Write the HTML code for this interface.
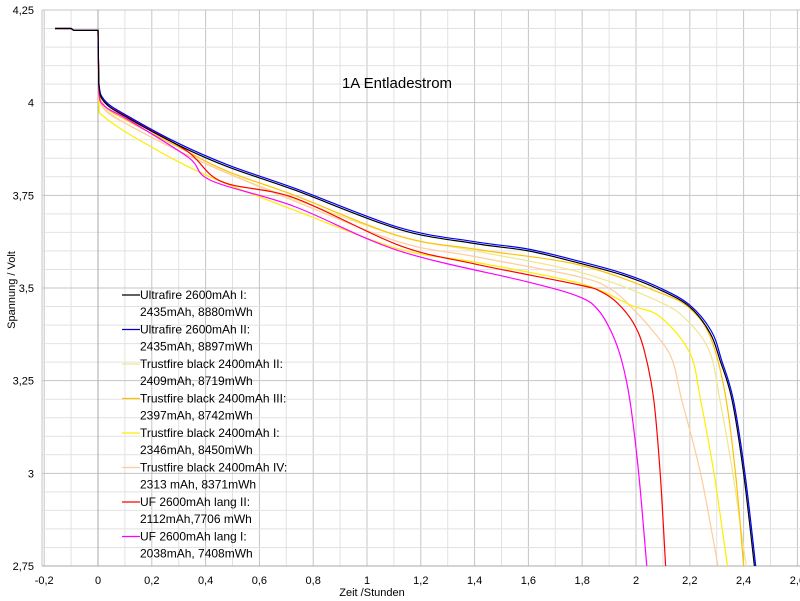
<!DOCTYPE html>
<html><head><meta charset="utf-8"><style>
body{margin:0;background:#fff}
svg{display:block}
text{font-family:"Liberation Sans",sans-serif;fill:#000}
</style></head><body>
<svg id="s" width="800" height="601" viewBox="0 0 800 601" xmlns="http://www.w3.org/2000/svg">
<g id="grid"></g>
<g id="curves" fill="none" stroke-width="1.2"></g>
<g id="ticks" font-size="11"></g>
<text x="397" y="88" font-size="15" text-anchor="middle">1A Entladestrom</text>
<text x="372" y="596" font-size="11" text-anchor="middle">Zeit /Stunden</text>
<text transform="translate(15,290) rotate(-90)" font-size="11" text-anchor="middle">Spannung / Volt</text>
<g id="leg" font-size="12"></g>
</svg>
<script>
const NS="http://www.w3.org/2000/svg";
const px=t=>98+t*269, py=v=>10+(4.25-v)*370.67;
function el(p,tag,a,txt){const e=document.createElementNS(NS,tag);for(const k in a)e.setAttribute(k,a[k]);if(txt!==undefined)e.textContent=txt;document.getElementById(p).appendChild(e);return e;}
for(let i=-2;i<=26;i++){const x=px(i/10);if(x<42||x>799)continue;el("grid","line",{x1:x,x2:x,y1:10,y2:566,stroke:i%2?"#e2e2e2":"#c4c4c4"});}
for(let i=0;i<=30;i++){const y=10+i*556/30;el("grid","line",{x1:42,x2:800,y1:y,y2:y,stroke:i%5?"#e2e2e2":"#c4c4c4"});}
el("grid","line",{x1:98,x2:98,y1:10,y2:566,stroke:"#a8a8a8"});
el("grid","line",{x1:42,x2:800,y1:566,y2:566,stroke:"#a8a8a8"});
el("grid","line",{x1:42,x2:42,y1:10,y2:566,stroke:"#c4c4c4"});
const xl=["-0,2","0","0,2","0,4","0,6","0,8","1","1,2","1,4","1,6","1,8","2","2,2","2,4","2,6"];
xl.forEach((l,i)=>el("ticks","text",{x:px(-0.2+i*0.2),y:584,"text-anchor":"middle"},l));
[["4,25",4.25],["4",4],["3,75",3.75],["3,5",3.5],["3,25",3.25],["3",3],["2,75",2.75]].forEach(([l,v])=>el("ticks","text",{x:34,y:py(v)+4,"text-anchor":"end"},l));
const pre=[[-0.16,4.20],[-0.1,4.2],[-0.09,4.195],[0,4.195]];
const C=[
["#f0e68c",[[0.003,4.03],[0.026,3.985],[0.113,3.94],[0.3,3.87],[0.48,3.81],[0.73,3.74],[1.12,3.64],[1.4,3.6],[1.79,3.543],[2.09,3.462],[2.2,3.405],[2.275,3.325],[2.312,3.198],[2.36,3.0],[2.41,2.75]]],
["#ffcc99",[[0.003,4.03],[0.026,3.98],[0.113,3.94],[0.3,3.87],[0.48,3.81],[0.73,3.735],[1.12,3.624],[1.4,3.585],[1.79,3.53],[1.91,3.495],[1.98,3.45],[2.05,3.395],[2.13,3.314],[2.17,3.198],[2.24,3.0],[2.305,2.75]]],
["#ffee00",[[0.003,4.0],[0.026,3.96],[0.175,3.89],[0.4,3.805],[0.73,3.71],[1.12,3.605],[1.4,3.57],[1.79,3.513],[1.98,3.454],[2.09,3.422],[2.2,3.325],[2.24,3.198],[2.29,3.0],[2.34,2.75]]],
["#ffc000",[[0.003,4.04],[0.026,3.99],[0.113,3.95],[0.3,3.88],[0.48,3.815],[0.73,3.75],[1.12,3.64],[1.4,3.605],[1.79,3.562],[2.09,3.487],[2.2,3.445],[2.275,3.37],[2.33,3.22],[2.37,3.0],[2.40,2.75]]],
["#ff00ff",[[0.003,4.03],[0.026,3.99],[0.11,3.955],[0.335,3.853],[0.42,3.79],[0.73,3.72],[1.12,3.60],[1.6,3.516],[1.79,3.476],[1.86,3.44],[1.91,3.379],[1.946,3.306],[1.977,3.198],[2.01,3.0],[2.04,2.75]]],
["#ff0000",[[0.003,4.05],[0.026,4.0],[0.113,3.96],[0.33,3.87],[0.46,3.787],[0.73,3.743],[1.12,3.615],[1.4,3.565],[1.79,3.508],[1.87,3.49],[1.93,3.46],[1.99,3.406],[2.03,3.333],[2.066,3.198],[2.09,3.0],[2.11,2.75]]],
["#0000ff",[[0.003,4.055],[0.026,4.005],[0.113,3.963],[0.297,3.891],[0.483,3.832],[0.732,3.769],[1.12,3.663],[1.4,3.625],[1.6,3.605],[1.79,3.572],[1.95,3.54],[2.09,3.5],[2.2,3.454],[2.28,3.384],[2.318,3.306],[2.362,3.198],[2.405,3.0],[2.445,2.75]]],
["#000000",[[0.003,4.05],[0.026,4.0],[0.113,3.958],[0.297,3.886],[0.483,3.827],[0.732,3.764],[1.12,3.658],[1.4,3.62],[1.6,3.60],[1.79,3.567],[1.95,3.535],[2.09,3.495],[2.2,3.449],[2.275,3.379],[2.312,3.306],[2.357,3.198],[2.40,3.0],[2.44,2.75]]]
];
function cr(P){let d="M"+P[0][0].toFixed(1)+","+P[0][1].toFixed(1);
 for(let i=0;i<P.length-1;i++){const p0=P[Math.max(i-1,0)],p1=P[i],p2=P[i+1],p3=P[Math.min(i+2,P.length-1)];
  if(i<4){d+=" L"+p2[0].toFixed(1)+","+p2[1].toFixed(1);continue;}
  const c1=[p1[0]+(p2[0]-p0[0])/6,p1[1]+(p2[1]-p0[1])/6],c2=[p2[0]-(p3[0]-p1[0])/6,p2[1]-(p3[1]-p1[1])/6];
  d+=" C"+c1.map(v=>v.toFixed(1)).join(",")+" "+c2.map(v=>v.toFixed(1)).join(",")+" "+p2[0].toFixed(1)+","+p2[1].toFixed(1);}
 return d;}
C.forEach(([c,p])=>{const P=pre.concat(p).map(([t,v])=>[px(t),py(v)]);el("curves","path",{d:cr(P),stroke:c});});
const L=[["#000","Ultrafire 2600mAh I:","2435mAh, 8880mWh"],["#0000cc","Ultrafire 2600mAh II:","2435mAh, 8897mWh"],["#f0e68c","Trustfire black 2400mAh II:","2409mAh, 8719mWh"],["#ffc000","Trustfire black 2400mAh III:","2397mAh, 8742mWh"],["#ffee00","Trustfire black 2400mAh I:","2346mAh, 8450mWh"],["#ffcc99","Trustfire black 2400mAh IV:","2313 mAh, 8371mWh"],["#ff0000","UF 2600mAh lang II:","2112mAh,7706 mWh"],["#ff00ff","UF 2600mAh lang I:","2038mAh, 7408mWh"]];
L.forEach(([c,a,b],i)=>{const y=295+i*34.5;el("leg","line",{x1:122,x2:140,y1:y,y2:y,stroke:c,"stroke-width":1.2});el("leg","text",{x:140,y:y+4},a);el("leg","text",{x:140,y:y+21},b);});
</script>
</body></html>
